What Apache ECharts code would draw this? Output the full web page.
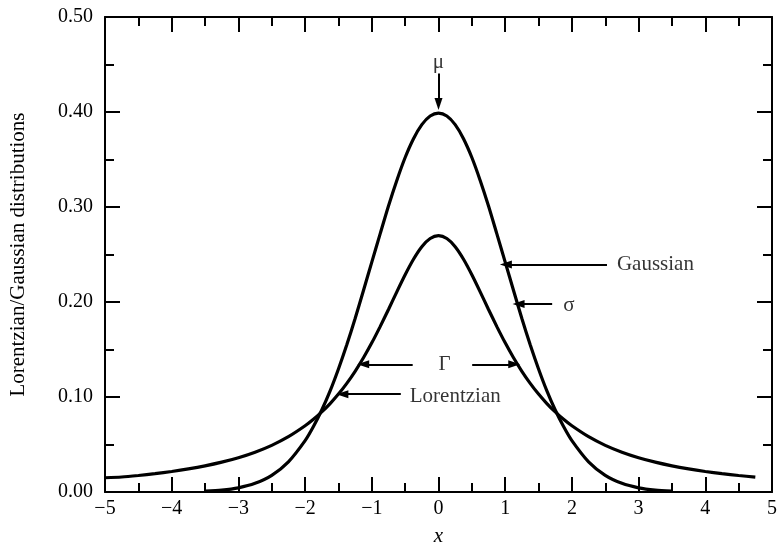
<!DOCTYPE html>
<html><head><meta charset="utf-8">
<script src="https://cdn.jsdelivr.net/npm/echarts@6/dist/echarts.min.js"></script>
<style>html,body{margin:0;padding:0;background:#fff}#c{width:780px;height:552px}</style>
</head><body><div id="c"></div>
<script>
// x positions (step 0.25 in the tails, 0.125 in the centre)
const xValues = [-5,-4.75,-4.5,-4.25,-4,-3.75,-3.5,-3.25,-3,-2.75,-2.5,-2.25,
  -2,-1.875,-1.75,-1.625,-1.5,-1.375,-1.25,-1.125,-1,-0.875,-0.75,-0.625,-0.5,-0.375,-0.25,-0.125,0,
  0.125,0.25,0.375,0.5,0.625,0.75,0.875,1,1.125,1.25,1.375,1.5,1.625,1.75,1.875,2,
  2.25,2.5,2.75,3,3.25,3.5,3.75,4,4.25,4.5,4.75,5];
// Gaussian curve values
const gaussian = [null,null,null,null,null,null,0.0009,0.0020,0.0044,0.0091,0.0175,0.0317,
  0.0540,0.0689,0.0863,0.1064,0.1295,0.1550,0.1826,0.2121,0.2420,0.2717,0.3011,0.3280,0.3521,0.3719,0.3867,0.3958,0.3989,
  0.3958,0.3867,0.3719,0.3521,0.3280,0.3011,0.2717,0.2420,0.2121,0.1826,0.1550,0.1295,0.1064,0.0863,0.0689,0.0540,
  0.0317,0.0175,0.0091,0.0044,0.0020,0.0009,null,null,null,null,null,null];
// Lorentzian curve values
const lorentzian = [0.0150,0.0158,0.0174,0.0193,0.0216,0.0243,0.0275,0.0314,0.0361,0.0419,0.0491,0.0582,
  0.0697,0.0765,0.0843,0.0931,0.1031,0.1144,0.1271,0.1413,0.1570,0.1741,0.1921,0.2107,0.2287,0.2450,0.2582,0.2668,0.2698,
  0.2668,0.2582,0.2450,0.2287,0.2107,0.1921,0.1741,0.1570,0.1413,0.1271,0.1144,0.1031,0.0931,0.0843,0.0765,0.0697,
  0.0582,0.0491,0.0419,0.0361,0.0314,0.0275,0.0243,0.0216,0.0193,0.0174,0.0157,null];
// tick labels
const xTickValues = [-5,-4,-3,-2,-1,0,1,2,3,4,5];
const xTickLabels = ['\u22125','\u22124','\u22123','\u22122','\u22121','0','1','2','3','4','5'];
const yTickValues = [0,0.1,0.2,0.3,0.4,0.5];
const yTickLabels = ['0.00','0.10','0.20','0.30','0.40','0.50'];
const xTitle = 'x';
const yTitle = 'Lorentzian/Gaussian distributions';
// annotation arrows (tail -> head, data coordinates)
const arrowTails = [[0,0.4406],[2.526,0.2396],[1.704,0.198],[-0.387,0.1344],[0.505,0.1344],[-0.565,0.103]];
const arrowHeads = [[0,0.4085],[1.01,0.2396],[1.20,0.198],[-1.129,0.1344],[1.136,0.1344],[-1.441,0.103]];
// annotation texts and anchors
const noteTexts = ['\u03bc','Gaussian','\u03c3','\u0393','Lorentzian'];
const noteAnchors = [[0,0.452],[2.675,0.2396],[1.872,0.196],[0.09,0.1344],[-0.431,0.1005]];
const noteAlign = ['center','left','left','center','left'];

const FONT = '"Liberation Serif", "Times New Roman", serif';
const chart = echarts.init(document.getElementById('c'), null, {renderer:'canvas'});
const axisLine = {show:true, onZero:false, lineStyle:{color:'#000', width:2}};
const tick = {show:true, inside:true, length:15, lineStyle:{color:'#000', width:2}};
const minor = {show:true, splitNumber:2, length:9, lineStyle:{color:'#000', width:2}};
const xLabel = v => { const i = xTickValues.findIndex(t => Math.abs(t-v)<1e-9); return i<0?'':xTickLabels[i]; };
const yLabel = v => { const i = yTickValues.findIndex(t => Math.abs(t-v)<1e-9); return i<0?'':yTickLabels[i]; };

chart.setOption({
  animation:false,
  backgroundColor:'#fff',
  grid:{left:100, right:7, top:17, bottom:56, containLabel:false},
  xAxis:[
    {type:'value', min:-5, max:5, interval:1, position:'bottom', axisLine, axisTick:tick, minorTick:minor,
     splitLine:{show:false}, minorSplitLine:{show:false},
     axisLabel:{formatter:xLabel, fontFamily:FONT, fontSize:20, color:'#000', margin:7},
     name:xTitle, nameLocation:'middle', nameGap:34,
     nameTextStyle:{fontFamily:FONT, fontSize:21, fontStyle:'italic', color:'#000'}},
    {type:'value', min:-5, max:5, interval:1, position:'top', axisLine, axisTick:tick, minorTick:minor,
     splitLine:{show:false}, axisLabel:{show:false}}
  ],
  yAxis:[
    {type:'value', min:0, max:0.5, interval:0.1, position:'left', axisLine, axisTick:tick, minorTick:minor,
     splitLine:{show:false}, minorSplitLine:{show:false},
     axisLabel:{formatter:yLabel, fontFamily:FONT, fontSize:20, color:'#000', margin:12},
     name:yTitle, nameLocation:'middle', nameGap:76, nameRotate:90,
     nameTextStyle:{fontFamily:FONT, fontSize:21, color:'#000'}},
    {type:'value', min:0, max:0.5, interval:0.1, position:'right', axisLine, axisTick:tick, minorTick:minor,
     splitLine:{show:false}, axisLabel:{show:false}}
  ],
  series:[
    {name:'Gaussian', type:'line', data:xValues.map((x,i)=>[x,gaussian[i]]), showSymbol:false, smooth:0.25,
     connectNulls:false, lineStyle:{color:'#000', width:3.2}},
    {name:'Lorentzian', type:'line', data:xValues.map((x,i)=>[x,lorentzian[i]]), showSymbol:false, smooth:0.25,
     connectNulls:false, lineStyle:{color:'#000', width:3.2}},
    {name:'arrows', type:'line', data:[], silent:true,
     markLine:{silent:true, symbol:['none','triangle'], symbolSize:[8,12], animation:false,
       lineStyle:{color:'#000', width:2, type:'solid'}, label:{show:false},
       data:arrowTails.map((t,i)=>[{coord:t},{coord:arrowHeads[i]}])}},
    {name:'notes', type:'scatter', symbolSize:0, silent:true,
     data:noteAnchors.map((p,i)=>({value:p, label:{show:true, position:'inside', align:noteAlign[i], verticalAlign:'middle',
       formatter:noteTexts[i], fontFamily:FONT, fontSize:21, color:'#000'}}))}
  ]
});
</script></body></html>
